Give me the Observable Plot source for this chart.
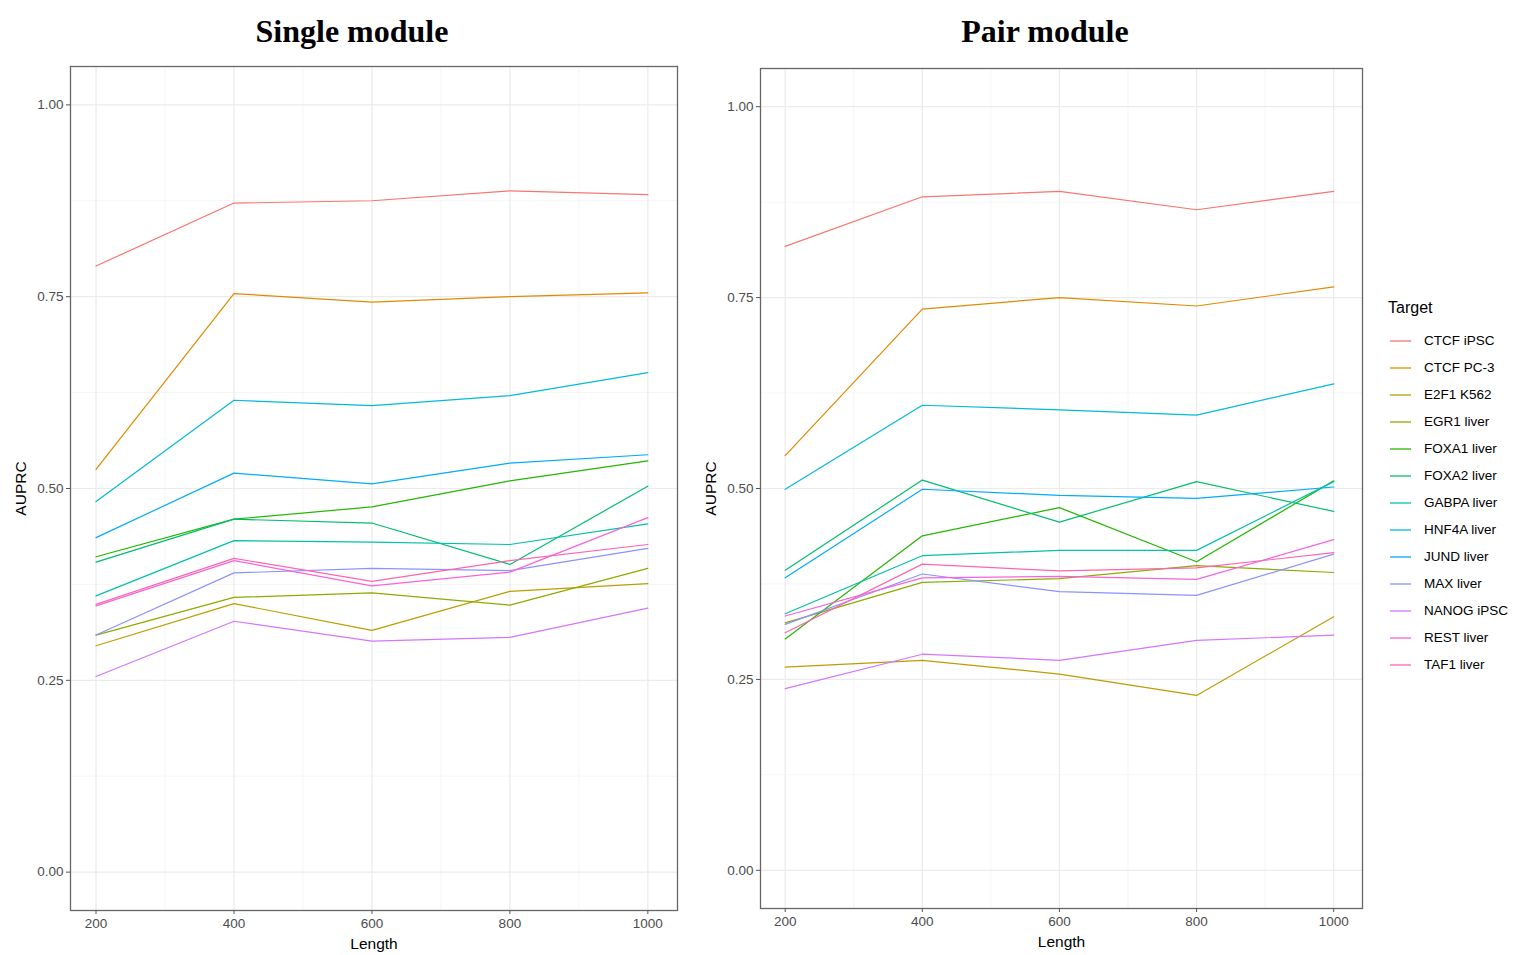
<!DOCTYPE html>
<html>
<head>
<meta charset="utf-8">
<script src="https://cdn.jsdelivr.net/npm/d3@7"></script>
<script src="https://cdn.jsdelivr.net/npm/@observablehq/plot@0.6"></script>
<style>
  html, body { margin: 0; padding: 0; background: #fff; }
  #root { position: relative; width: 1516px; height: 955px; overflow: hidden; font-family: "Liberation Sans", Arial, sans-serif; background: #fff; }
  .title { position: absolute; top: 13px; z-index: 5; font-family: "Liberation Serif", "Times New Roman", serif; font-weight: bold; font-size: 32px; color: #000; text-align: center; width: 400px; }
  .panel { position: absolute; top: 0; z-index: 1; }
  #legend { position: absolute; left: 1388px; top: 299px; z-index: 5; font-family: "Liberation Sans", Arial, sans-serif; }
  #legend .lt { font-size: 16px; color: #000; margin-bottom: 10px; }
  #legend .row { display: flex; align-items: center; height: 27px; font-size: 13.5px; color: #000; }
  #legend svg { margin: 0 13px 0 2px; }
</style>
</head>
<body>
<div id="root">
  <div id="left" class="panel" style="left:0px;"></div>
  <div id="right" class="panel" style="left:690px;"></div>
  <div class="title" style="left:152px;">Single module</div>
  <div class="title" style="left:845px;">Pair module</div>
  <div id="legend"></div>
</div>
<script>
const lengths = [200, 400, 600, 800, 1000];
const targets = ["CTCF iPSC", "CTCF PC-3", "E2F1 K562", "EGR1 liver", "FOXA1 liver", "FOXA2 liver", "GABPA liver", "HNF4A liver", "JUND liver", "MAX liver", "NANOG iPSC", "REST liver", "TAF1 liver"];
const colors = ["#F8766D", "#E18A00", "#BE9C00", "#8CAB00", "#24B700", "#00BE70", "#00C1AB", "#00BBDA", "#00ACFC", "#8B93FF", "#D575FE", "#F962DD", "#FF65AC"];
const yTicks = [0, 0.25, 0.5, 0.75, 1.0];
const yMinor = [0.125, 0.375, 0.625, 0.875];
const xMinor = [300, 500, 700, 900];

// AUPRC per target (rows follow `targets`), columns follow `lengths`
const singleValues = [
  [0.790, 0.872, 0.875, 0.888, 0.883],
  [0.525, 0.754, 0.743, 0.750, 0.755],
  [0.295, 0.350, 0.315, 0.366, 0.376],
  [0.309, 0.358, 0.364, 0.348, 0.396],
  [0.411, 0.460, 0.476, 0.510, 0.536],
  [0.404, 0.460, 0.455, 0.401, 0.503],
  [0.360, 0.432, 0.430, 0.427, 0.454],
  [0.483, 0.615, 0.608, 0.621, 0.651],
  [0.436, 0.520, 0.506, 0.533, 0.544],
  [0.309, 0.390, 0.396, 0.393, 0.422],
  [0.255, 0.327, 0.301, 0.306, 0.344],
  [0.347, 0.406, 0.373, 0.391, 0.462],
  [0.349, 0.409, 0.379, 0.406, 0.427]
];
const pairValues = [
  [0.817, 0.882, 0.889, 0.865, 0.889],
  [0.543, 0.735, 0.750, 0.739, 0.764],
  [0.266, 0.275, 0.257, 0.229, 0.332],
  [0.324, 0.377, 0.382, 0.399, 0.390],
  [0.303, 0.438, 0.475, 0.404, 0.510],
  [0.393, 0.511, 0.456, 0.509, 0.470],
  [0.336, 0.412, 0.419, 0.419, 0.509],
  [0.499, 0.609, 0.603, 0.596, 0.637],
  [0.383, 0.499, 0.491, 0.487, 0.502],
  [0.322, 0.388, 0.365, 0.360, 0.414],
  [0.238, 0.283, 0.275, 0.301, 0.308],
  [0.333, 0.383, 0.385, 0.381, 0.433],
  [0.311, 0.401, 0.392, 0.396, 0.416]
];

function toRows(values) {
  const rows = [];
  targets.forEach((t, i) => lengths.forEach((L, j) => rows.push({target: t, length: L, auprc: values[i][j]})));
  return rows;
}

function panel(values, opts) {
  return Plot.plot({
    width: opts.width,
    height: 955,
    marginTop: opts.mt,
    marginBottom: opts.mb,
    marginLeft: 70,
    marginRight: opts.mr,
    style: {fontFamily: "'Liberation Sans', Arial, sans-serif", fontSize: "13px", background: "transparent"},
    x: {domain: opts.xd},
    y: {domain: [-0.05, 1.05]},
    color: {domain: targets, range: colors},
    marks: [
      Plot.ruleY(yMinor, {stroke: "#F2F2F2", strokeWidth: 0.8}),
      Plot.ruleX(xMinor, {stroke: "#F2F2F2", strokeWidth: 0.8}),
      Plot.ruleY(yTicks, {stroke: "#EBEBEB", strokeWidth: 1.2}),
      Plot.ruleX(lengths, {stroke: "#EBEBEB", strokeWidth: 1.2}),
      Plot.line(toRows(values), {x: "length", y: "auprc", z: "target", stroke: "target", strokeWidth: 1.2}),
      Plot.frame({stroke: "#666", strokeWidth: 1.3}),
      Plot.axisY(yTicks, {tickFormat: d3.format(".2f"), tickSize: 4, tickPadding: 3, stroke: "#555", fill: "#4D4D4D", fontSize: 13.5, label: null}),
      Plot.axisX(lengths, {tickFormat: d3.format("d"), tickSize: 4, tickPadding: 4, stroke: "#555", fill: "#4D4D4D", fontSize: 13.5, label: null}),
      Plot.text(["AUPRC"], {frameAnchor: "left", dx: -49, rotate: -90, fontSize: 15.5, fill: "#000", textAnchor: "middle"}),
      Plot.text(["Length"], {frameAnchor: "bottom", dy: 38, fontSize: 15.5, fill: "#000"})
    ]
  });
}

document.getElementById("left").appendChild(panel(singleValues, {width: 690, mt: 66, mb: 45, mr: 13, xd: [163, 1043]}));
document.getElementById("right").appendChild(panel(pairValues, {width: 685, mt: 68, mb: 47, mr: 13, xd: [164, 1042]}));

const leg = document.getElementById("legend");
const lt = document.createElement("div");
lt.className = "lt"; lt.textContent = "Target";
leg.appendChild(lt);
targets.forEach((t, i) => {
  const r = document.createElement("div"); r.className = "row";
  r.innerHTML = `<svg width="21" height="6"><line x1="0" x2="21" y1="3" y2="3" stroke="${colors[i]}" stroke-width="1.3"/></svg>`;
  const tx = document.createElement("span"); tx.textContent = t;
  r.appendChild(tx); leg.appendChild(r);
});
</script>
</body>
</html>
